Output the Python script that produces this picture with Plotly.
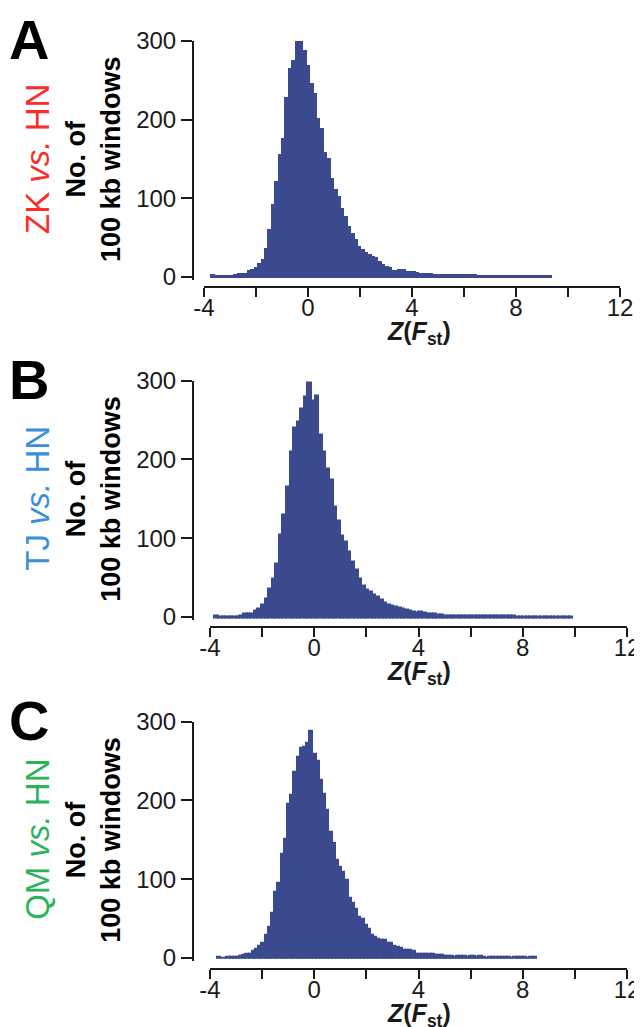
import plotly.graph_objects as go

# ---------------- data ----------------
# histogram of Z(Fst) for 100 kb windows; 100 equal bins per panel
bin_start_A = -3.75
bin_width_A = 0.131
counts_A = [2, 1, 1, 1, 1, 1, 1, 2, 4, 4,
            4, 8, 9, 11, 17, 21, 35, 60, 91, 121,
            155, 175, 228, 264, 275, 301, 301, 287, 268, 245,
            232, 201, 188, 157, 150, 125, 110, 102, 87, 76,
            64, 55, 47, 38, 34, 30, 28, 25, 24, 19,
            15, 13, 11, 8, 8, 9, 9, 6, 6, 6,
            5, 4, 4, 4, 4, 3, 2, 2, 2, 2,
            2, 2, 2, 2, 2, 2, 2, 2, 1, 1,
            1, 1, 1, 1, 1, 1, 1, 1, 1, 1,
            1, 1, 1, 1, 1, 1, 1, 1, 1, 1]

bin_start_B = -3.83
bin_width_B = 0.1373
counts_B = [2, 1, 1, 1, 1, 1, 1, 2, 4, 4,
            4, 8, 11, 16, 24, 36, 49, 68, 105, 130,
            165, 210, 240, 248, 265, 280, 297, 275, 281, 231,
            210, 189, 175, 140, 123, 104, 96, 83, 70, 60,
            49, 40, 35, 32, 28, 26, 22, 19, 16, 14,
            13, 12, 11, 9, 8, 7, 6, 7, 6, 4,
            4, 4, 3, 3, 2, 2, 2, 2, 2, 2,
            2, 2, 2, 2, 2, 2, 2, 2, 2, 2,
            2, 2, 2, 2, 1, 1, 1, 1, 1, 1,
            1, 1, 1, 1, 1, 1, 1, 1, 1, 1]

bin_start_C = -3.74
bin_width_C = 0.1224
counts_C = [2, 1, 1, 2, 2, 2, 2, 3, 4, 5,
            6, 9, 12, 15, 19, 30, 40, 57, 84, 96,
            133, 152, 196, 207, 236, 255, 267, 268, 273, 288,
            260, 250, 227, 209, 188, 160, 146, 125, 116, 110,
            99, 76, 70, 62, 52, 50, 42, 37, 30, 27,
            24, 23, 23, 20, 19, 16, 14, 13, 11, 11,
            10, 9, 6, 5, 5, 5, 5, 5, 4, 4,
            4, 3, 3, 3, 2, 3, 3, 3, 2, 3,
            3, 2, 3, 2, 1, 2, 2, 2, 2, 2,
            2, 2, 1, 2, 2, 2, 2, 1, 2, 2]

panel_letters = ["A", "B", "C"]
comparison_labels = ["ZK <i>vs.</i> HN", "TJ <i>vs.</i> HN", "QM <i>vs.</i> HN"]
y_title = "No. of<br>100 kb windows"
x_title = "<b><i>Z</i>(<i>F</i><sub>st</sub>)</b>"
y_tick_vals = [0, 100, 200, 300]
x_tick_vals = [-4, 0, 4, 8, 12]
x_tick_text = ["-4", "0", "4", "8", "12"]
x_minor_step = 2

# ---------------- styling / layout ----------------
W, H = 642, 1027
OFF = 8          # page body margin offset of the plot div
BAR = "#3B4A8E"
AXIS = "#1A1A1A"
FONT = "Liberation Sans, Arial, sans-serif"
label_colors = ["#FF2A2A", "#3A8FD8", "#2BB35C"]

panels = [
    dict(start=bin_start_A, width=bin_width_A, counts=counts_A,
         x0=204, x1=620, y_zero=277, y_top=41, x_axis_y=287),
    dict(start=bin_start_B, width=bin_width_B, counts=counts_B,
         x0=210, x1=627, y_zero=617, y_top=380.5, x_axis_y=627),
    dict(start=bin_start_C, width=bin_width_C, counts=counts_C,
         x0=210, x1=627, y_zero=958, y_top=721.7, x_axis_y=969),
]


def fx(px):
    return (px - OFF) / W


def fy(py):
    return 1 - (py - OFF) / H


fig = go.Figure()
annotations = []
layout_axes = {}

for k, p in enumerate(panels):
    n = k + 1
    xa = "x" if n == 1 else f"x{n}"
    ya = "y" if n == 1 else f"y{n}"
    centers = [p["start"] + p["width"] * (i + 0.5) for i in range(len(p["counts"]))]
    fig.add_trace(go.Bar(
        x=centers, y=p["counts"], width=p["width"],
        marker=dict(color=BAR, line=dict(color=BAR, width=2)),
        xaxis=xa, yaxis=ya, showlegend=False, hoverinfo="x+y",
    ))

    y_min = -4
    per = (p["y_zero"] - p["y_top"]) / 300.0
    y_bottom_px = p["y_zero"] - y_min * per

    xkey = "xaxis" if n == 1 else f"xaxis{n}"
    ykey = "yaxis" if n == 1 else f"yaxis{n}"
    layout_axes[xkey] = dict(
        domain=[fx(p["x0"]), fx(p["x1"])], range=[-4, 12],
        anchor="free", position=fy(p["x_axis_y"]), automargin=False,
        showline=True, linecolor=AXIS, linewidth=2,
        ticks="outside", ticklen=9, tickwidth=2, tickcolor=AXIS,
        tickvals=x_tick_vals, ticktext=x_tick_text, ticklabelstandoff=-10,
        minor=dict(ticks="outside", ticklen=9, tickwidth=2, tickcolor=AXIS,
                   tick0=x_tick_vals[0], dtick=x_minor_step, showgrid=False),
        tickfont=dict(family=FONT, size=24, color=AXIS),
        showgrid=False, zeroline=False,
    )
    layout_axes[ykey] = dict(
        domain=[fy(y_bottom_px), fy(p["y_top"])], range=[y_min, 300],
        anchor="free", position=fx(193), automargin=False,
        showline=True, linecolor=AXIS, linewidth=2,
        ticks="outside", ticklen=11, tickwidth=2, tickcolor=AXIS,
        tickvals=y_tick_vals,
        tickfont=dict(family=FONT, size=24, color=AXIS),
        showgrid=False, zeroline=False,
    )

    y_mid = (p["y_zero"] + p["y_top"]) / 2
    common = dict(xref="paper", yref="paper", showarrow=False)
    # panel letter
    annotations.append(dict(
        text=f"<b>{panel_letters[k]}</b>", x=fx(9), y=fy(p["y_top"] - 33),
        xanchor="left", yanchor="top", borderpad=0, borderwidth=0,
        font=dict(family=FONT, size=56, color="#000000"), **common,
    ))
    # comparison label
    annotations.append(dict(
        text=comparison_labels[k], x=fx(38), y=fy(y_mid),
        xanchor="center", yanchor="middle", textangle=-90,
        font=dict(family=FONT, size=33, color=label_colors[k]), **common,
    ))
    # y axis title
    annotations.append(dict(
        text=f"<b>{y_title}</b>", x=fx(94), y=fy(y_mid),
        xanchor="center", yanchor="middle", textangle=-90,
        font=dict(family=FONT, size=27, color="#000000"), **common,
    ))
    # x axis title
    annotations.append(dict(
        text=x_title, x=fx(419), y=fy(p["x_axis_y"] + 30),
        xanchor="center", yanchor="top", borderpad=0, borderwidth=0,
        font=dict(family=FONT, size=25, color=AXIS), **common,
    ))

fig.update_layout(
    width=W, height=H, autosize=False,
    margin=dict(l=0, r=0, t=0, b=0),
    paper_bgcolor="white", plot_bgcolor="white",
    bargap=0, showlegend=False,
    annotations=annotations,
    **layout_axes,
)

fig.write_html("out.html")
